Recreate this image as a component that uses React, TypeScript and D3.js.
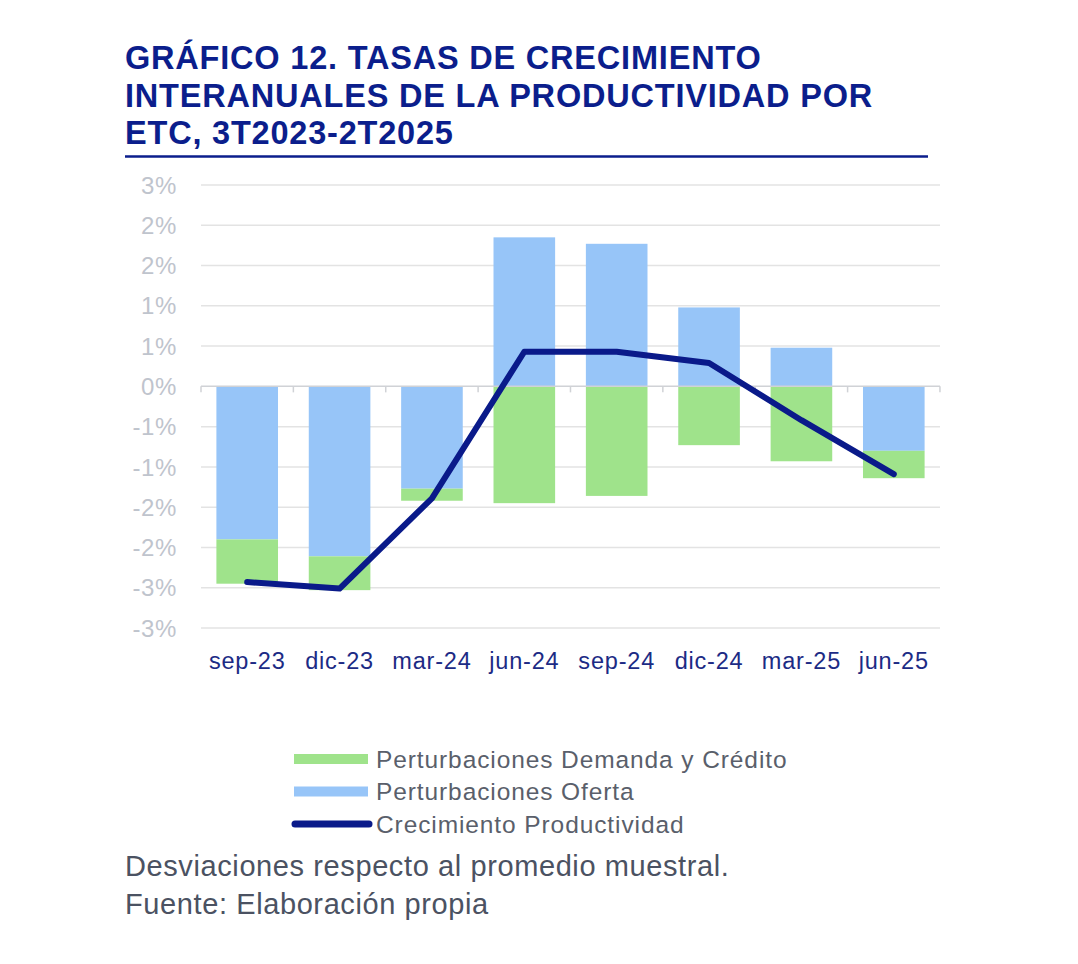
import React from 'react';
import * as d3 from 'd3';

// Quarter labels on the x axis
const categories = ['sep-23', 'dic-23', 'mar-24', 'jun-24', 'sep-24', 'dic-24', 'mar-25', 'jun-25'];

// Contributions (percentage points)
const oferta = [-1.9, -2.11, -1.27, 1.85, 1.77, 0.98, 0.48, -0.8];
const demanda = [-0.55, -0.42, -0.15, -1.45, -1.36, -0.73, -0.93, -0.34];
const productividad = [-2.43, -2.51, -1.39, 0.43, 0.43, 0.29, -0.42, -1.09];

// Excel draws the axis every 0.5 pp with a "0%" format, hence repeated labels
const yTicks = [-3, -2.5, -2, -1.5, -1, -0.5, 0, 0.5, 1, 1.5, 2, 2.5];

const titleLines = [
  'GRÁFICO 12. TASAS DE CRECIMIENTO',
  'INTERANUALES DE LA PRODUCTIVIDAD POR',
  'ETC, 3T2023-2T2025',
];
const notes = ['Desviaciones respecto al promedio muestral.', 'Fuente: Elaboración propia'];

const FONT = "'Liberation Sans', Arial, Helvetica, sans-serif";
const NAVY = '#0b1e8c';
const GREEN = '#9fe38b';
const BLUE = '#97c5f8';
const LINE = '#0a1a8a';

const width = 1078;
const height = 964;
const margin = { top: 185, right: 138, bottom: 336, left: 201 };

// Round half away from zero, like Excel
const fmt = (v: number) => {
  const r = Math.sign(v) * Math.round(Math.abs(v));
  return `${r === 0 ? 0 : r}%`;
};

const App: React.FC = () => {
  const innerW = width - margin.left - margin.right;
  const innerH = height - margin.top - margin.bottom;

  const x = d3.scaleBand<string>()
    .domain(categories)
    .range([0, innerW])
    .paddingInner(0.333)
    .paddingOuter(0.1667);
  const step = x.step();

  const y = d3.scaleLinear().domain([-3, 2.5]).range([innerH, 0]);

  const rows = categories.map((c, i) => ({ cat: c, oferta: oferta[i], demanda: demanda[i] }));
  const stacked = d3.stack<any>()
    .keys(['oferta', 'demanda'])
    .offset(d3.stackOffsetDiverging)(rows);
  const colors: Record<string, string> = { oferta: BLUE, demanda: GREEN };

  const line = d3.line<number>()
    .x((_, i) => (x(categories[i]) || 0) + x.bandwidth() / 2)
    .y(d => y(d));

  const legend = [
    { label: 'Perturbaciones Demanda y Crédito', kind: 'bar', color: GREEN },
    { label: 'Perturbaciones Oferta', kind: 'bar', color: BLUE },
    { label: 'Crecimiento Productividad', kind: 'line', color: LINE },
  ];

  return (
    <svg
      width={width}
      height={height}
      style={{ position: 'absolute', left: 0, top: 0, background: '#fff' }}
      fontFamily={FONT}
    >
      {/* Title */}
      {titleLines.map((t, i) => (
        <text key={t} x={125} y={69 + i * 37.5} fontSize={32.5} fontWeight="bold" fill={NAVY} letterSpacing={0.8}>
          {t}
        </text>
      ))}
      <line x1={125} x2={928} y1={156.5} y2={156.5} stroke={NAVY} strokeWidth={2.5} />

      <g transform={`translate(${margin.left},${margin.top})`}>
        {/* Grid + y labels */}
        {yTicks.map(t => (
          <g key={t} transform={`translate(0,${y(t)})`}>
            {t !== 0 && <line x1={0} x2={innerW} stroke="#e3e3e3" strokeWidth={1.5} />}
            <text x={-24} dy="0.36em" textAnchor="end" fontSize={24} fill="#bfc4cd" letterSpacing={0.6}>
              {fmt(t)}
            </text>
          </g>
        ))}

        {/* Stacked bars */}
        {stacked.map(s => (
          <g key={s.key} fill={colors[s.key]}>
            {s.map((d, i) => (
              <rect
                key={i}
                x={x(categories[i])}
                width={x.bandwidth()}
                y={y(Math.max(d[0], d[1]))}
                height={Math.abs(y(d[0]) - y(d[1]))}
              />
            ))}
          </g>
        ))}

        {/* Zero axis with category tick marks */}
        <line x1={0} x2={innerW} y1={y(0)} y2={y(0)} stroke="#d0d2d6" strokeWidth={1.5} />
        {d3.range(categories.length + 1).map(i => (
          <line key={i} x1={i * step} x2={i * step} y1={y(0)} y2={y(0) + 6} stroke="#d0d2d6" strokeWidth={1.5} />
        ))}

        {/* Productivity line */}
        <path
          d={line(productividad) || ''}
          fill="none"
          stroke={LINE}
          strokeWidth={6}
          strokeLinejoin="round"
          strokeLinecap="round"
        />

        {/* x labels */}
        {categories.map(c => (
          <text
            key={c}
            x={(x(c) || 0) + x.bandwidth() / 2}
            y={innerH + 41}
            textAnchor="middle"
            fontSize={23.5}
            fill="#1c2b85"
            letterSpacing={0.8}
          >
            {c}
          </text>
        ))}
      </g>

      {/* Legend */}
      {legend.map((l, i) => {
        const cy = 759 + i * 32.5;
        return (
          <g key={l.label}>
            {l.kind === 'bar' ? (
              <rect x={294} y={cy - 5} width={74} height={10} fill={l.color} />
            ) : (
              <line x1={295} x2={369} y1={cy} y2={cy} stroke={l.color} strokeWidth={7} strokeLinecap="round" />
            )}
            <text x={376} y={cy + 8.5} fontSize={24.5} fill="#5a5f6b" letterSpacing={0.9}>
              {l.label}
            </text>
          </g>
        );
      })}

      {/* Notes */}
      {notes.map((n, i) => (
        <text key={n} x={125} y={876 + i * 38} fontSize={29} fill="#4b5262" letterSpacing={0.6}>
          {n}
        </text>
      ))}
    </svg>
  );
};

export default App;
